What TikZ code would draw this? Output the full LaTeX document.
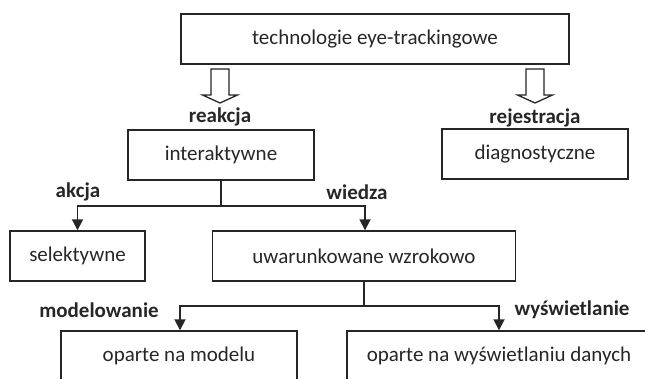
\documentclass[tikz,border=0pt]{standalone}
\usepackage{fontspec}
\setmainfont{Carlito}
\usetikzlibrary{arrows.meta}
\definecolor{ink}{HTML}{262626}
\begin{document}
\begin{tikzpicture}[x=1pt,y=-1pt,
  font=\fontsize{21}{25}\selectfont,
  box/.style={draw=ink,line width=1.4pt,rectangle,inner sep=0pt,minimum height=50pt,text=ink},
  lbl/.style={font=\fontsize{21}{25}\selectfont\bfseries,text=ink,inner sep=0pt},
  conn/.style={draw=ink,line width=1.8pt},
  arr/.style={conn,-{Triangle[length=11pt,width=11pt]}},
  hollow/.style={draw=ink,line width=1.3pt,fill=white,line join=miter}
]
\useasboundingbox (0,0) rectangle (645,379);
\clip (0,0) rectangle (645,379);

\node[box,minimum width=388pt] (top) at (375,39) {technologie eye-trackingowe};
\node[box,minimum width=186pt] (inter) at (221,155) {interaktywne};
\node[box,minimum width=186pt] (diag) at (535,154) {diagnostyczne};
\node[box,minimum width=135pt] (sel) at (77.5,256) {selektywne};
\node[box,minimum width=303pt] (uwar) at (364,256) {uwarunkowane wzrokowo};
\node[box,minimum width=236pt] (model) at (179,356) {oparte na modelu};
\node[box,minimum width=304pt] (wysw) at (499,356) {oparte na wyświetlaniu danych};

% hollow arrows
\coordinate (ha1) at (220,69);
\coordinate (ha2) at (535,69);
\foreach \c in {ha1,ha2}{
  \draw[hollow] (\c) ++(-9,0) -- ++(18,0) -- ++(0,26) -- ++(8.5,0) -- ++(-17.5,8) -- ++(-17.5,-8) -- ++(8.5,0) -- cycle;
}
\node[lbl] (lreak) at (220,117) {reakcja};
\node[lbl] (lrej) at (535,118) {rejestracja};

% interaktywne branches
\coordinate (j1) at (221,206);
\draw[conn] (inter.south) -- (j1);
\draw[arr] (j1) -| (sel.north);
\draw[arr] (j1) -| ([xshift=1pt]uwar.north);
\node[lbl] (lakc) at (78,192) {akcja};
\node[lbl] (lwie) at (357,192) {wiedza};

% uwarunkowane branches
\coordinate (j2) at (364,306);
\draw[conn] (uwar.south) -- (j2);
\draw[arr] (j2) -| ([xshift=1pt]model.north);
\draw[arr] (j2) -| (wysw.north);
\node[lbl] (lmod) at (99,310) {modelowanie};
\node[lbl] (lwys) at (572,310) {wyświetlanie};
\end{tikzpicture}
\end{document}
